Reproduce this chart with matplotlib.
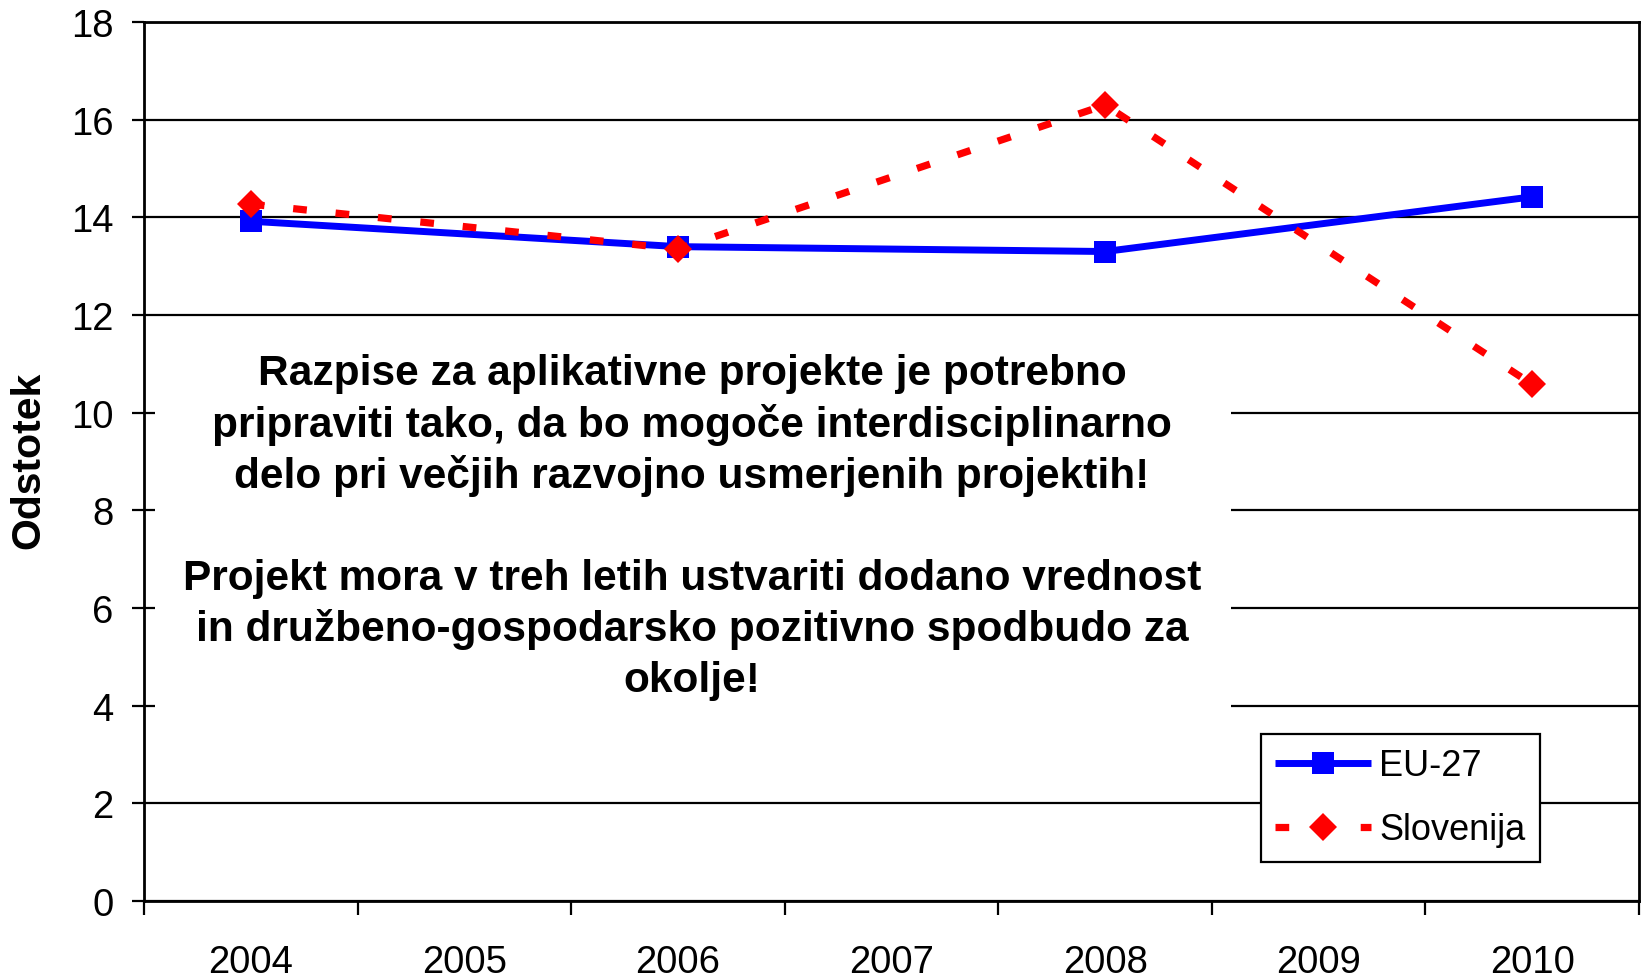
import matplotlib
matplotlib.use("Agg")
import matplotlib.pyplot as plt
from matplotlib.patches import Rectangle

plt.rcParams['font.family'] = ['Liberation Sans', 'DejaVu Sans']

categories = ['2004', '2005', '2006', '2007', '2008', '2009', '2010']
data_years = ['2004', '2006', '2008', '2010']
eu27 = [13.92, 13.40, 13.30, 14.42]
slovenija = [14.27, 13.35, 16.30, 10.58]
y_ticks = [0, 2, 4, 6, 8, 10, 12, 14, 16, 18]
y_label = 'Odstotek'
series_names = ['EU-27', 'Slovenija']
note_lines = [
    'Razpise za aplikativne projekte je potrebno',
    'pripraviti tako, da bo mogoče interdisciplinarno',
    'delo pri večjih razvojno usmerjenih projektih!',
    '',
    'Projekt mora v treh letih ustvariti dodano vrednost',
    'in družbeno-gospodarsko pozitivno spodbudo za',
    'okolje!',
]

W, H = 1641, 979
fig = plt.figure(figsize=(W / 100, H / 100), dpi=100)
ax = fig.add_axes([144 / W, 1 - 902 / H, 1495 / W, 879 / H])

xpos = [categories.index(y) for y in data_years]

ax.plot(xpos, eu27, color='#0000FF', lw=5, marker='s', markersize=16,
        markeredgewidth=0, label=series_names[0], zorder=3,
        solid_capstyle='butt')
ax.plot(xpos, slovenija, color='#FF0000', lw=5.2, linestyle=(0, (1.9, 4.0)),
        marker='D', markersize=14, markeredgewidth=0,
        label=series_names[1], zorder=4)

ax.set_xlim(-0.5, len(categories) - 0.5)
ax.set_ylim(0, 18)
ax.set_yticks(y_ticks)
ax.set_yticklabels([str(t) for t in y_ticks], fontsize=27.5)
ax.yaxis.grid(True, color='black', lw=1.6)
ax.set_axisbelow(True)

# category boundaries as major ticks, labels at centers as minor ticks
ax.set_xticks([i - 0.5 for i in range(len(categories) + 1)])
ax.set_xticklabels([''] * (len(categories) + 1))
ax.set_xticks(range(len(categories)), minor=True)
ax.set_xticklabels(categories, minor=True, fontsize=27.5)
ax.tick_params(axis='x', which='major', direction='out', length=10, width=1.6)
ax.tick_params(axis='x', which='minor', length=0, pad=31)
ax.tick_params(axis='y', direction='out', length=9, width=1.6, pad=13)

for sp in ax.spines.values():
    sp.set_linewidth(2.0)
    sp.set_color('black')

# white note box covering the grid (x in axes fraction, y in data)
ax.add_patch(Rectangle((0.0074, 3.62), 0.7195, 8.0, transform=ax.get_yaxis_transform(),
                       facecolor='white', edgecolor='none', zorder=1.5))
note_y0 = 10.82
step = 1.05
for i, line in enumerate(note_lines):
    if line:
        ax.text(2.066, note_y0 - i * step, line, ha='center', va='center',
                fontsize=30.5, fontweight='bold', zorder=2)

fig.text(28 / W, 1 - 460 / H, y_label, rotation=90, ha='center', va='center',
         fontsize=29.5, fontweight='bold')

leg = ax.legend(loc='upper left', bbox_to_anchor=(1261 / W, 1 - 735 / H),
                bbox_transform=fig.transFigure, fontsize=26, frameon=True,
                fancybox=False, shadow=False, borderaxespad=0, handlelength=2.65,
                handletextpad=0.22, borderpad=0.4, labelspacing=0.8)
leg.get_frame().set_edgecolor('black')
leg.get_frame().set_linewidth(1.6)
leg.get_frame().set_alpha(1)

fig.savefig('out.png', dpi=100)
